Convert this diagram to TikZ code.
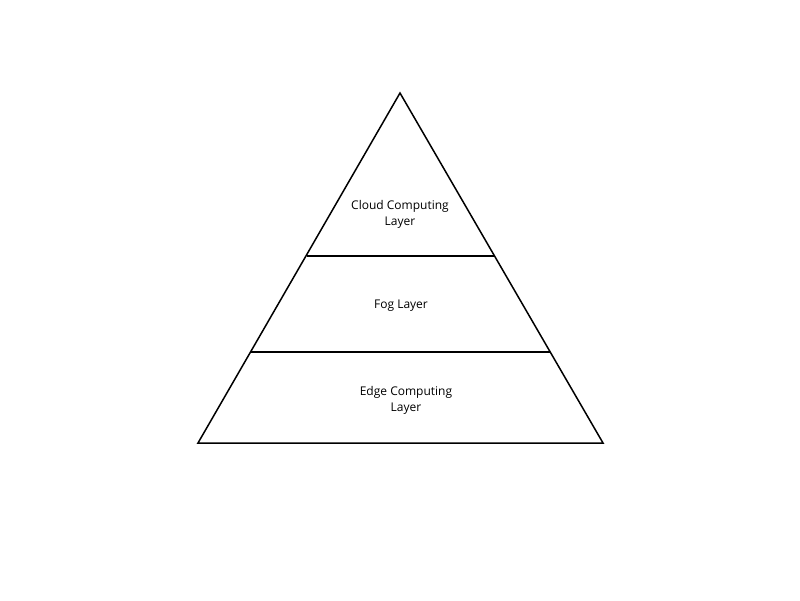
\documentclass[tikz,border=0pt]{standalone}
\usepackage{fontspec}
\setmainfont{Open Sans}
\begin{document}
\begin{tikzpicture}[x=1pt,y=-1pt,line width=1.5pt,
  lbl/.style={font=\fontsize{12}{16}\selectfont,align=center}]
\useasboundingbox (0,0) rectangle (800,600);
\coordinate (apex) at (400,93);
\coordinate (bl) at (198,443);
\coordinate (br) at (603,443);
\coordinate (a1) at (307,256);
\coordinate (b1) at (494,256);
\coordinate (a2) at (251,352);
\coordinate (b2) at (550,352);
\draw[line join=miter] (apex) -- (br) -- (bl) -- cycle;
\draw[line width=1.2pt] (a1) -- (b1);
\draw[line width=1.2pt] (a2) -- (b2);
\node[lbl] (cloud) at (400,214) {Cloud Computing\\Layer};
\node[lbl] (fog) at (401,306) {Fog Layer};
\node[lbl] (edge) at (406,400) {Edge Computing\\Layer};
\end{tikzpicture}
\end{document}
